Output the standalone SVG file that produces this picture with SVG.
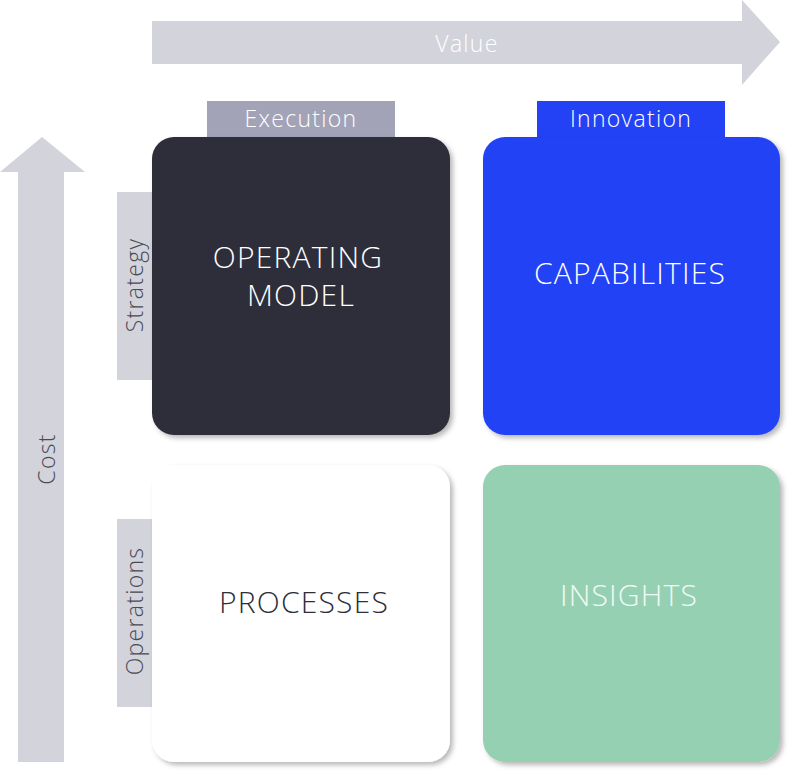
<svg xmlns="http://www.w3.org/2000/svg" width="792" height="775" viewBox="0 0 792 775">
<defs>
<filter id="sh" x="-10%" y="-10%" width="125%" height="125%">
<feDropShadow dx="3" dy="3" stdDeviation="2.5" flood-color="#000" flood-opacity="0.28"/>
</filter>
</defs>
<style>
text{font-family:"Open Sans","Liberation Sans",sans-serif;font-weight:300;text-anchor:middle}
.axis{fill:#d3d3dc}
.big{font-size:30px;letter-spacing:1.2px}
.lbl{font-size:23px;letter-spacing:1.3px}
</style>
<rect width="792" height="775" fill="#ffffff"/>
<g id="value-axis">
<polygon class="axis" points="152,21 742,21 742,0 780,42 742,85 742,64 152,64"/>
<text class="lbl" x="467" y="52" fill="#ffffff">Value</text>
</g>
<g id="cost-axis">
<polygon class="axis" points="18,762 18,172 0,172 42,137 85,172 64,172 64,762"/>
<text class="lbl" transform="translate(55,459) rotate(-90)" fill="#4a4a55">Cost</text>
</g>
<g id="execution-tab">
<rect x="207" y="101" width="188" height="36" fill="#a3a3b8"/>
<text class="lbl" x="301" y="127" fill="#ffffff">Execution</text>
</g>
<g id="innovation-tab">
<rect x="537" y="101" width="188" height="36" fill="#2342f5"/>
<text class="lbl" x="631" y="127" fill="#ffffff">Innovation</text>
</g>
<g id="strategy-tab">
<rect x="117" y="192" width="35" height="188" fill="#d3d3dc"/>
<text class="lbl" transform="translate(143,285) rotate(-90)" fill="#4a4a55">Strategy</text>
</g>
<g id="operations-tab">
<rect x="117" y="519" width="35" height="188" fill="#d3d3dc"/>
<text class="lbl" transform="translate(143,611) rotate(-90)" fill="#4a4a55">Operations</text>
</g>
<g id="operating-model">
<rect x="152" y="137" width="298" height="298" rx="22" fill="#2e2d3a" filter="url(#sh)"/>
<text class="big" x="298" y="268" fill="#ffffff">OPERATING</text>
<text class="big" x="301" y="306" fill="#ffffff">MODEL</text>
</g>
<g id="capabilities">
<rect x="483" y="137" width="297" height="298" rx="22" fill="#2342f5" filter="url(#sh)"/>
<text class="big" x="630" y="284" fill="#ffffff">CAPABILITIES</text>
</g>
<g id="processes">
<rect x="152" y="465" width="298" height="297" rx="22" fill="#ffffff" filter="url(#sh)"/>
<text class="big" x="304" y="613" fill="#2e2d3a">PROCESSES</text>
</g>
<g id="insights">
<rect x="483" y="465" width="297" height="297" rx="22" fill="#96d0b2" filter="url(#sh)"/>
<text class="big" x="629" y="606" fill="#f2faf5">INSIGHTS</text>
</g>
<g id="connectors"></g>
</svg>
